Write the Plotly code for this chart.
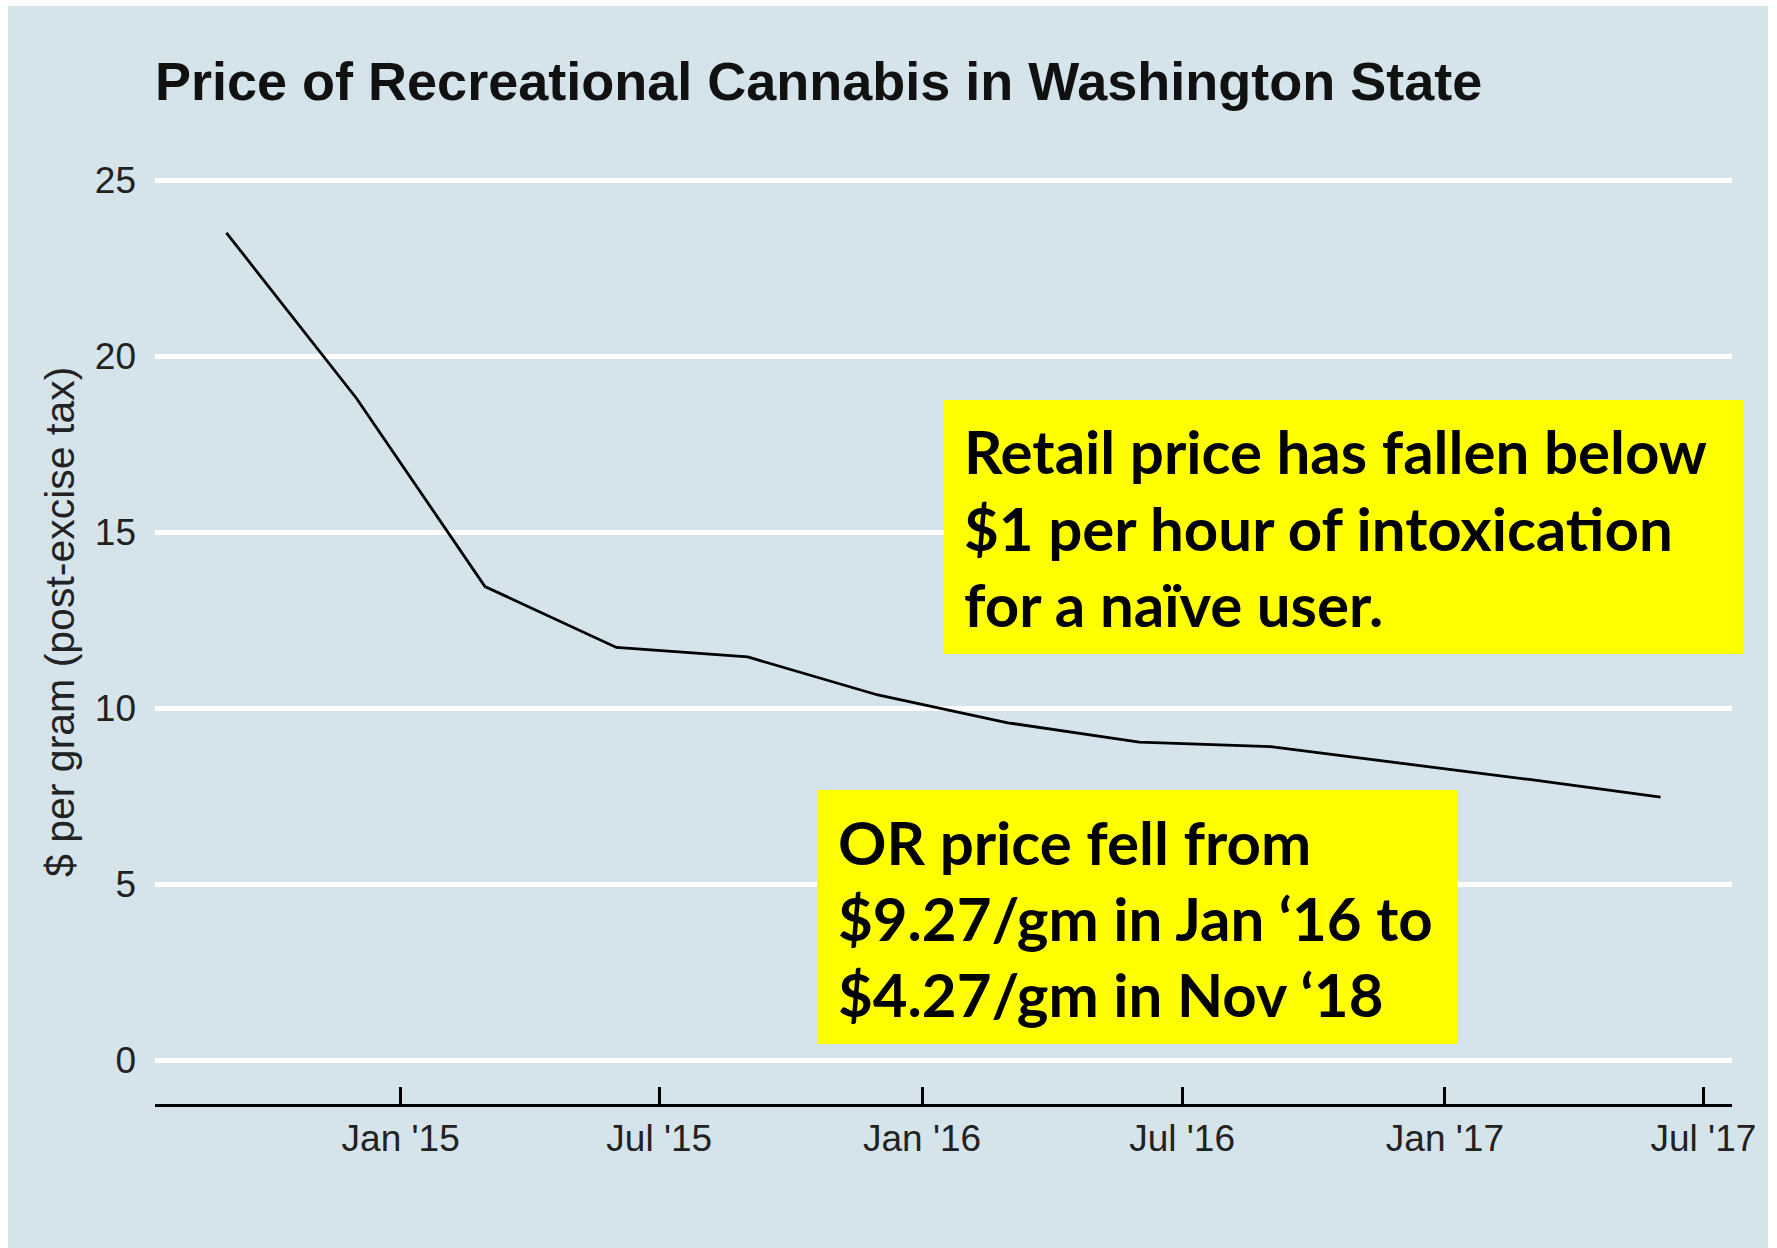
import plotly.graph_objects as go

# Quarterly average retail price, $ per gram (post-excise tax)
dates = ["2014-09-01", "2014-12-01", "2015-03-01", "2015-06-01", "2015-09-01",
         "2015-12-01", "2016-03-01", "2016-06-01", "2016-09-01", "2016-12-01",
         "2017-03-01", "2017-06-01"]
price = [23.5, 18.8, 13.45, 11.72, 11.45, 10.37, 9.58, 9.03, 8.9, 8.44, 7.97, 7.47]

x_tick_dates = ["2015-01-01", "2015-07-01", "2016-01-01", "2016-07-01", "2017-01-01", "2017-07-01"]
x_tick_labels = ["Jan '15", "Jul '15", "Jan '16", "Jul '16", "Jan '17", "Jul '17"]
y_ticks = [0, 5, 10, 15, 20, 25]

title_text = "Price of Recreational Cannabis in Washington State"
y_title = "$ per gram (post-excise tax)"
callout_wa = ["Retail price has fallen below", "$1 per hour of intoxication", "for a naïve user."]
callout_or = ["OR price fell from", "$9.27/gm in Jan \u201816 to", "$4.27/gm in Nov \u201818"]

W, H = 1777, 1248
L, R, T, B = 155, 45, 136, 144
PW, PH = W - L - R, H - T - B

BG = "#d5e4eb"
SANS = "Liberation Sans, Arial, Helvetica, sans-serif"
CALLOUT = "Lato, Open Sans, sans-serif"


def px_x(p):
    return (p - L) / PW


def px_y(p):
    return (H - B - p) / PH


fig = go.Figure()
fig.add_trace(go.Scatter(x=dates, y=price, mode="lines",
                         line=dict(color="black", width=2.8),
                         hoverinfo="x+y", showlegend=False))

shapes = [
    # economist-style light blue card with a thin white edge
    dict(type="rect", xref="paper", yref="paper", layer="below",
         x0=px_x(8), x1=px_x(1768), y0=px_y(1260), y1=px_y(6),
         fillcolor=BG, line=dict(width=0)),
    # yellow callout boxes
    dict(type="rect", xref="paper", yref="paper", layer="above",
         x0=px_x(944), x1=px_x(1743), y0=px_y(654), y1=px_y(400),
         fillcolor="#ffff00", line=dict(width=0)),
    dict(type="rect", xref="paper", yref="paper", layer="above",
         x0=px_x(817), x1=px_x(1457), y0=px_y(1044), y1=px_y(790),
         fillcolor="#ffff00", line=dict(width=0)),
]

annotations = [
    dict(text=y_title, textangle=-90, xref="paper", yref="paper",
         x=px_x(60), y=px_y(622), xanchor="center", yanchor="middle",
         showarrow=False, font=dict(family=SANS, size=41, color="#222222")),
]
for i, line in enumerate(callout_wa):
    annotations.append(dict(text="<b>" + line + "</b>", xref="paper", yref="paper",
                            x=px_x(962), y=px_y(451 + 76.5 * i),
                            xanchor="left", yanchor="middle", showarrow=False,
                            font=dict(family=CALLOUT, size=60, color="black")))
for i, line in enumerate(callout_or):
    annotations.append(dict(text="<b>" + line + "</b>", xref="paper", yref="paper",
                            x=px_x(836), y=px_y(842 + 76 * i),
                            xanchor="left", yanchor="middle", showarrow=False,
                            font=dict(family=CALLOUT, size=60, color="black")))

fig.update_layout(
    width=W, height=H,
    margin=dict(l=L, r=R, t=T, b=B),
    paper_bgcolor="white",
    plot_bgcolor=BG,
    title=dict(text="<b>" + title_text + "</b>", x=L / W, xanchor="left",
               y=1 - 81 / H, yanchor="middle",
               font=dict(family=SANS, size=54, color="#111111")),
    shapes=shapes,
    annotations=annotations,
    xaxis=dict(type="date", range=["2014-07-13", "2017-07-21"],
               tickmode="array", tickvals=x_tick_dates, ticktext=x_tick_labels,
               ticks="inside", ticklen=17, tickwidth=2.5, tickcolor="black",
               showline=True, linecolor="black", linewidth=3,
               showgrid=False, zeroline=False, ticklabelstandoff=0,
               tickfont=dict(family=SANS, size=37, color="#222222")),
    yaxis=dict(range=[-1.25, 26.25], tickmode="array", tickvals=y_ticks,
               showgrid=True, gridcolor="white", gridwidth=5,
               zeroline=False, showline=False, ticks="",
               ticklabelstandoff=18,
               tickfont=dict(family=SANS, size=37, color="#222222")),
)

fig.write_html("out.html")
